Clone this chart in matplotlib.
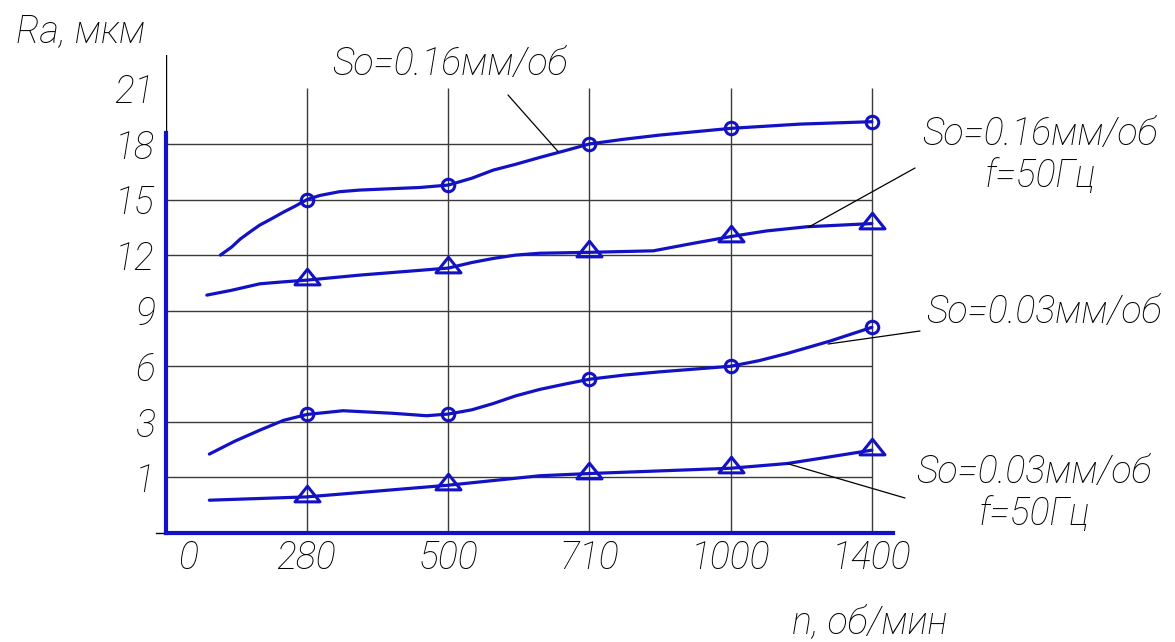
import numpy as np
import matplotlib
matplotlib.use("Agg")
import matplotlib.pyplot as plt
from matplotlib.path import Path
import matplotlib.transforms as mtransforms

# x axis: spindle speed n, об/мин (ticks evenly spaced on the drawing)
n_ticks = [0, 280, 500, 710, 1000, 1400]
# y axis: Ra, мкм (ticks evenly spaced on the drawing)
ra_ticks = [1, 3, 6, 9, 12, 15, 18, 21]

# measured points (markers)
n_pts = [280, 500, 710, 1000, 1400]
ra_016 = [15.0, 15.78, 18.0, 18.84, 19.2]
ra_016_f50 = [10.65, 11.3, 12.15, 13.0, 13.7]
ra_003 = [3.4, 3.42, 5.3, 6.0, 8.1]
ra_003_f50 = [0.65, 0.86, 1.14, 1.33, 1.98]

# hand-drawn curves
n_c016 = [108, 130, 147, 166, 186, 210, 233, 256, 280, 300, 330, 362, 456, 500, 535, 567, 600, 636, 675, 710, 780, 855, 1000, 1196, 1400]
ra_c016 = [12.0, 12.43, 12.86, 13.24, 13.62, 13.97, 14.32, 14.64, 15.0, 15.22, 15.42, 15.51, 15.65, 15.78, 16.15, 16.59, 16.9, 17.27, 17.65, 18.0, 18.25, 18.48, 18.84, 19.07, 19.2]
n_c016f = [81, 130, 186, 230, 280, 362, 500, 535, 567, 600, 636, 710, 841, 922, 1000, 1100, 1216, 1400]
ra_c016f = [9.84, 10.1, 10.45, 10.55, 10.65, 10.92, 11.3, 11.6, 11.82, 12.0, 12.1, 12.15, 12.23, 12.63, 13.0, 13.3, 13.53, 13.7]
n_c003 = [86, 136, 186, 233, 280, 336, 414, 466, 500, 535, 567, 600, 636, 675, 710, 780, 855, 1000, 1080, 1160, 1280, 1400]
ra_c003 = [1.84, 2.3, 2.70, 3.08, 3.4, 3.60, 3.46, 3.33, 3.42, 3.65, 3.99, 4.4, 4.75, 5.05, 5.3, 5.52, 5.70, 6.0, 6.3, 6.69, 7.35, 8.1]
n_c003f = [86, 280, 500, 636, 710, 1000, 1160, 1281, 1400]
ra_c003f = [0.59, 0.65, 0.86, 1.06, 1.14, 1.33, 1.5, 1.74, 1.98]

BLUE = "#1212c4"
GRID = "#3a3a3a"
FONT = ["Roboto", "DejaVu Sans"]

# piecewise-linear scales so that the ticks sit evenly
xb = n_ticks + [1800]
yb = [0] + ra_ticks + [24]
xfwd = lambda v: np.interp(v, xb, np.arange(len(xb)))
xinv = lambda v: np.interp(v, np.arange(len(xb)), xb)
yfwd = lambda v: np.interp(v, yb, np.arange(len(yb)))
yinv = lambda v: np.interp(v, np.arange(len(yb)), yb)

fig = plt.figure(figsize=(11.75, 6.42), dpi=100)
ax = fig.add_axes([166 / 1175, 109 / 642, 727 / 1175, 478 / 642])
ax.set_xscale("function", functions=(xfwd, xinv))
ax.set_yscale("function", functions=(yfwd, yinv))
ax.set_xlim(0, 1460)
ax.set_ylim(0, 22.8)

# grid
ax.hlines(ra_ticks[:-1], 0, 1400, color=GRID, lw=1.0, zorder=1)
ax.vlines(n_ticks[1:], 0, 21, color=GRID, lw=1.0, zorder=1)

# axes lines
for s in ["top", "right"]:
    ax.spines[s].set_visible(False)
ax.spines["bottom"].set_color(BLUE)
ax.spines["bottom"].set_linewidth(3)
ax.spines["left"].set_color(BLUE)
ax.spines["left"].set_linewidth(3)
ax.spines["left"].set_bounds(0, 18.6)
ax.axvline(0, ymin=yfwd(18.6) / yfwd(22.8), ymax=1, color="k", lw=1.0)
ax.plot([-0.014, 0], [0, 0], transform=ax.transAxes, clip_on=False, color="k", lw=1.0)

# curves
tri = Path([(-1, -0.35), (1, -0.35), (0, 0.9), (-1, -0.35)],
           [Path.MOVETO, Path.LINETO, Path.LINETO, Path.CLOSEPOLY])
ckw = dict(color=BLUE, lw=2.3, zorder=3, solid_joinstyle="round", solid_capstyle="round")
ax.plot(n_c016, ra_c016, **ckw)
ax.plot(n_c016f, ra_c016f, **ckw)
ax.plot(n_c003, ra_c003, **ckw)
ax.plot(n_c003f, ra_c003f, **ckw)
ax.plot(n_pts, ra_016, "o", ms=9, mfc="none", mec=BLUE, mew=2.2, zorder=4)
ax.plot(n_pts, ra_003, "o", ms=9, mfc="none", mec=BLUE, mew=2.2, zorder=4)
ax.plot(n_pts, ra_016_f50, ls="none", marker=tri, ms=18, mfc="none", mec=BLUE, mew=2.2, zorder=4)
ax.plot(n_pts, ra_003_f50, ls="none", marker=tri, ms=18, mfc="none", mec=BLUE, mew=2.2, zorder=4)

# ticks
ax.set_xticks(n_ticks)
ax.set_xticklabels([str(v) for v in n_ticks])
ax.set_yticks(ra_ticks)
ax.set_yticklabels([str(v) for v in ra_ticks])
ax.minorticks_off()
ax.tick_params(length=0, labelsize=27)
ax.tick_params(axis="x", pad=5)
ax.tick_params(axis="y", pad=8)
for lab in ax.get_xticklabels() + ax.get_yticklabels():
    lab.set_family(FONT)
    lab.set_style("italic")
    lab.set_weight("light")
ax.get_xticklabels()[0].set_transform(
    ax.get_xticklabels()[0].get_transform()
    + mtransforms.ScaledTranslation(0.22, 0, fig.dpi_scale_trans))

# texts
tkw = dict(family=FONT, style="italic", weight="light", fontsize=27, ha="center", va="center")
fig.text(81 / 1175, 1 - 31 / 642, "Ra, мкм", **tkw)
fig.text(450 / 1175, 1 - 64 / 642, "So=0.16мм/об", **tkw)
fig.text(1040 / 1175, 1 - 155 / 642, "So=0.16мм/об\nf=50Гц", linespacing=1.15, **tkw)
fig.text(1044 / 1175, 1 - 312 / 642, "So=0.03мм/об", **tkw)
fig.text(1034 / 1175, 1 - 493 / 642, "So=0.03мм/об\nf=50Гц", linespacing=1.15, **tkw)
fig.text(870 / 1175, 1 - 622 / 642, "n, об/мин", **tkw)

# leader lines
lk = dict(arrowstyle="-", color="k", lw=0.9, shrinkA=0, shrinkB=0)
ax.annotate("", xy=(663, 17.6), xytext=(508, 642 - 95), textcoords="figure pixels", arrowprops=lk)
ax.annotate("", xy=(1220, 13.5), xytext=(915, 642 - 168), textcoords="figure pixels", arrowprops=lk)
ax.annotate("", xy=(1276, 7.2), xytext=(920, 642 - 331), textcoords="figure pixels", arrowprops=lk)
ax.annotate("", xy=(1160, 1.5), xytext=(905, 642 - 498), textcoords="figure pixels", arrowprops=lk)

fig.savefig("out.png", dpi=100)
